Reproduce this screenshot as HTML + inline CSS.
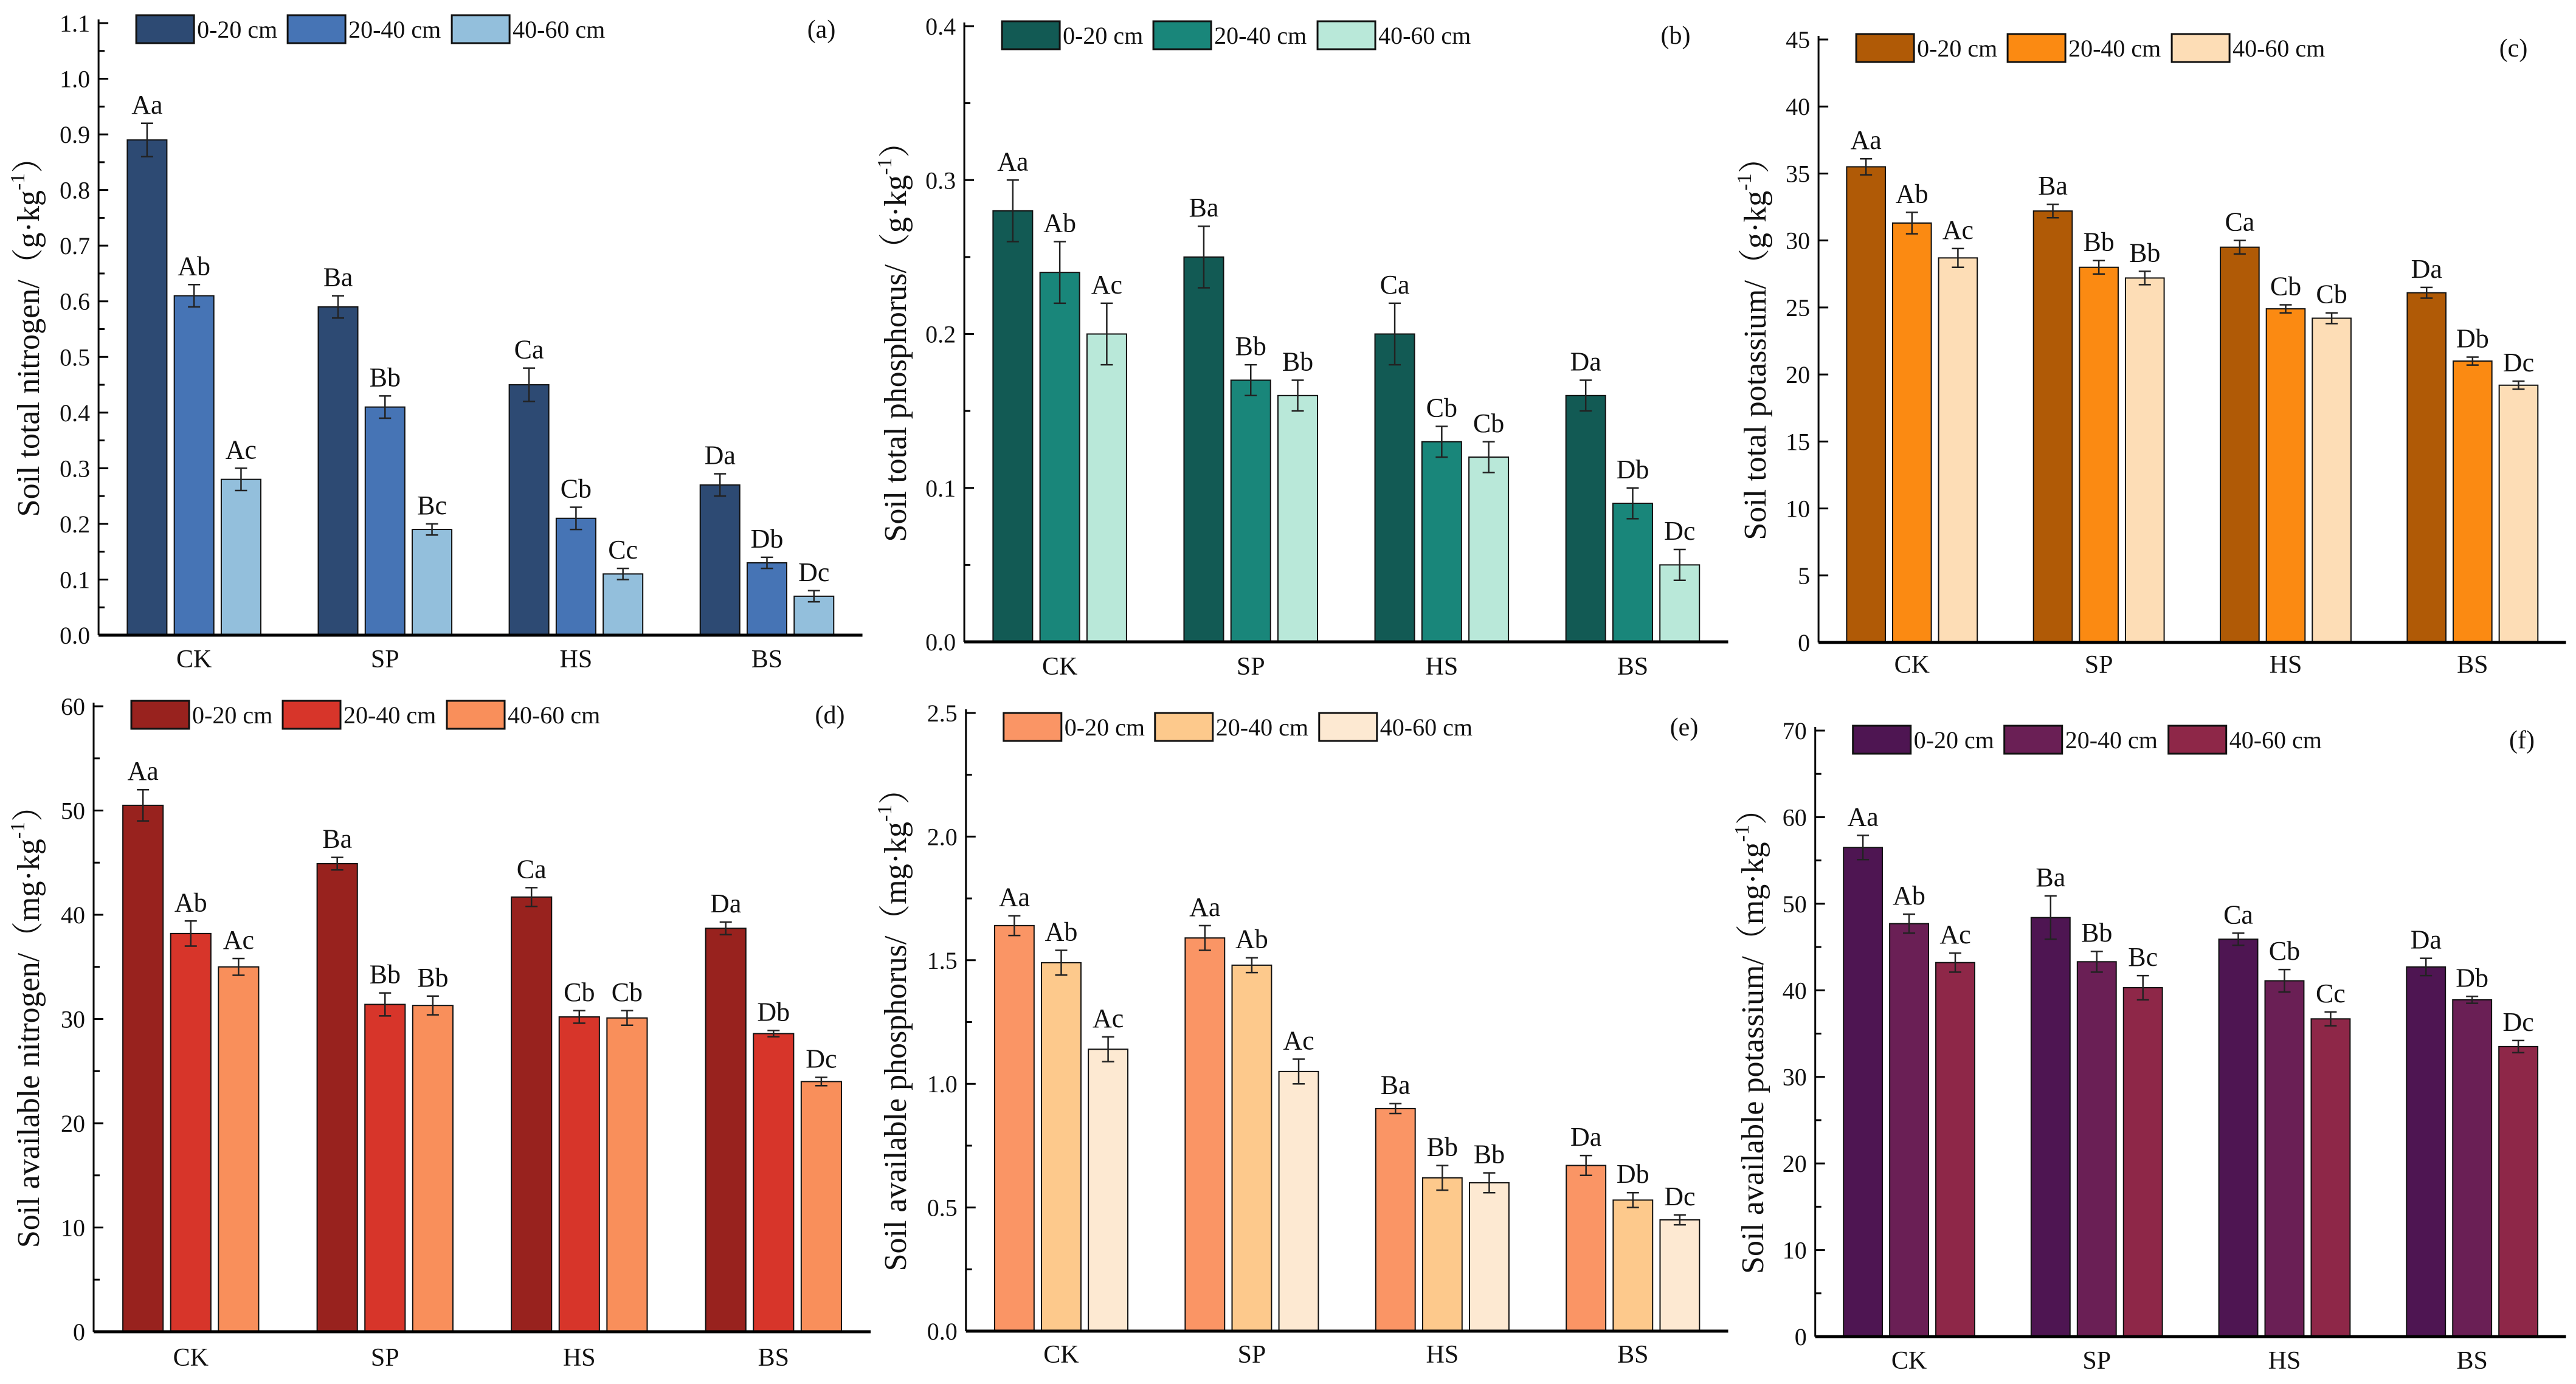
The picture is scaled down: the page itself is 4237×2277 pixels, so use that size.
<!DOCTYPE html>
<html><head><meta charset="utf-8"><style>
html,body{margin:0;padding:0;background:#fff;}
svg{display:block;font-family:"Liberation Serif","Noto Serif CJK SC",serif;}
</style></head><body>
<svg id="fig" width="4237" height="2277" viewBox="0 0 4237 2277" xmlns="http://www.w3.org/2000/svg"></svg>
<script>
const categories = ["CK","SP","HS","BS"];
const legendLabels = ["0-20 cm","20-40 cm","40-60 cm"];

const aVals = [[0.89,0.59,0.45,0.27],[0.61,0.41,0.21,0.13],[0.28,0.19,0.11,0.07]];
const aErr = [[0.03,0.02,0.03,0.02],[0.02,0.02,0.02,0.01],[0.02,0.01,0.01,0.01]];
const aSig = [["Aa","Ba","Ca","Da"],["Ab","Bb","Cb","Db"],["Ac","Bc","Cc","Dc"]];
const aTicks = ["0.0","0.1","0.2","0.3","0.4","0.5","0.6","0.7","0.8","0.9","1.0","1.1"];

const bVals = [[0.28,0.25,0.20,0.16],[0.24,0.17,0.13,0.09],[0.20,0.16,0.12,0.05]];
const bErr = [[0.02,0.02,0.02,0.01],[0.02,0.01,0.01,0.01],[0.02,0.01,0.01,0.01]];
const bSig = [["Aa","Ba","Ca","Da"],["Ab","Bb","Cb","Db"],["Ac","Bb","Cb","Dc"]];
const bTicks = ["0.0","0.1","0.2","0.3","0.4"];

const cVals = [[35.5,32.2,29.5,26.1],[31.3,28.0,24.9,21.0],[28.7,27.2,24.2,19.2]];
const cErr = [[0.6,0.5,0.5,0.4],[0.8,0.5,0.3,0.3],[0.7,0.5,0.4,0.3]];
const cSig = [["Aa","Ba","Ca","Da"],["Ab","Bb","Cb","Db"],["Ac","Bb","Cb","Dc"]];
const cTicks = ["0","5","10","15","20","25","30","35","40","45"];

const dVals = [[50.5,44.9,41.7,38.7],[38.2,31.4,30.2,28.6],[35.0,31.3,30.1,24.0]];
const dErr = [[1.5,0.6,0.9,0.6],[1.2,1.1,0.6,0.3],[0.8,0.9,0.7,0.4]];
const dSig = [["Aa","Ba","Ca","Da"],["Ab","Bb","Cb","Db"],["Ac","Bb","Cb","Dc"]];
const dTicks = ["0","10","20","30","40","50","60"];

const eVals = [[1.64,1.59,0.90,0.67],[1.49,1.48,0.62,0.53],[1.14,1.05,0.60,0.45]];
const eErr = [[0.04,0.05,0.02,0.04],[0.05,0.03,0.05,0.03],[0.05,0.05,0.04,0.02]];
const eSig = [["Aa","Aa","Ba","Da"],["Ab","Ab","Bb","Db"],["Ac","Ac","Bb","Dc"]];
const eTicks = ["0.0","0.5","1.0","1.5","2.0","2.5"];

const fVals = [[56.5,48.4,45.9,42.7],[47.7,43.3,41.1,38.9],[43.2,40.3,36.7,33.5]];
const fErr = [[1.4,2.5,0.7,1.0],[1.1,1.2,1.3,0.4],[1.1,1.4,0.8,0.7]];
const fSig = [["Aa","Ba","Ca","Da"],["Ab","Bb","Cb","Db"],["Ac","Bc","Cc","Dc"]];
const fTicks = ["0","10","20","30","40","50","60","70"];

const S = 2.702;
const NS = "http://www.w3.org/2000/svg";
const svg = document.getElementById("fig");
function mk(tag, attrs, parent){
  const e = document.createElementNS(NS, tag);
  for (const k in attrs) e.setAttribute(k, attrs[k]);
  (parent||svg).appendChild(e);
  return e;
}

const panels = [
 {id:"a", vals:aVals, err:aErr, sig:aSig, ticks:aTicks, max:1.1, minor:2, ax:60, end:525, top:38, bot:1045, legY:48, labX:1351, catY:1098, titX:52,
  colors:["#2d4a73","#4674b5","#93bfdc"], title:"Soil total nitrogen/（g·kg", unit:"）"},
 {id:"b", vals:bVals, err:bErr, sig:bSig, ticks:bTicks, max:0.4, minor:2, ax:587, end:1052, top:43, bot:1056, legY:58, labX:2756, catY:1110, titX:1478,
  colors:["#125a54","#19867a","#b9e8d9"], title:"Soil total phosphorus/（g·kg", unit:"）"},
 {id:"c", vals:cVals, err:cErr, sig:cSig, ticks:cTicks, max:45, minor:1, ax:1107, end:1562, top:65, bot:1057, legY:79, labX:4134, catY:1107, titX:2892,
  colors:["#b05a06","#fb8a12","#fdddb6"], title:"Soil total potassium/（g·kg", unit:"）"},
 {id:"d", vals:dVals, err:dErr, sig:dSig, ticks:dTicks, max:60, minor:2, ax:57, end:530, top:1162, bot:2191, legY:1176, labX:1365, catY:2247, titX:52,
  colors:["#98221e","#d7352a","#f98f5b"], title:"Soil available nitrogen/（mg·kg", unit:"）"},
 {id:"e", vals:eVals, err:eErr, sig:eSig, ticks:eTicks, max:2.5, minor:2, ax:588, end:1052, top:1173, bot:2190, legY:1196, labX:2770, catY:2242, titX:1478,
  colors:["#fa9565","#fdc98c","#fde9d2"], title:"Soil available phosphorus/（mg·kg", unit:"）"},
 {id:"f", vals:fVals, err:fErr, sig:fSig, ticks:fTicks, max:70, minor:2, ax:1105, end:1562, top:1202, bot:2199, legY:1217, labX:4148, catY:2252, titX:2888,
  colors:["#4e1552","#6a1f55","#8e2748"], title:"Soil available potassium/（mg·kg", unit:"）"}
];

panels.forEach(p => {
  const g = mk("g", {});
  
  
  const X0 = p.ax * S, X1 = p.end * S;
  const yS = v => p.bot - (v / p.max) * (p.bot - p.top);
  const L = X1 - X0, G = L / 4, bw = G * 0.207, step = G * 0.246;
  p.vals.forEach((series, s) => {
    series.forEach((v, i) => {
      const cx = X0 + (i + 0.5) * G + (s - 1) * step;
      const y = yS(v);
      const r = mk("rect", {x:cx-bw/2, y:y, width:bw, height:p.bot-y, fill:p.colors[s], stroke:"#111", "stroke-width":2}, g);
      
      
      const e = p.err[s][i], yt = yS(v+e), yb = yS(v-e);
      mk("path", {d:`M${cx},${yt}V${yb}M${cx-10},${yt}H${cx+10}M${cx-10},${yb}H${cx+10}`, stroke:"#222", "stroke-width":2.5, fill:"none"}, g);
      const t = mk("text", {x:cx, y:yt-16, "text-anchor":"middle", "font-size":44, fill:"#111"}, g);
      t.textContent = p.sig[s][i];
      
      
    });
  });
  mk("line", {x1:X0, y1:p.top-6, x2:X0, y2:p.bot, stroke:"#000", "stroke-width":3}, g);
  const xa = mk("line", {x1:X0, y1:p.bot, x2:X1, y2:p.bot, stroke:"#000", "stroke-width":5}, g);
  
  
  const n = p.ticks.length - 1;
  p.ticks.forEach((lab, k) => {
    const y = p.bot - k * (p.bot - p.top) / n;
    mk("line", {x1:X0, y1:y, x2:X0+16, y2:y, stroke:"#000", "stroke-width":3}, g);
    if (p.minor === 2 && k < n) {
      const ym = y - (p.bot - p.top) / n / 2;
      mk("line", {x1:X0, y1:ym, x2:X0+10, y2:ym, stroke:"#000", "stroke-width":3}, g);
    }
    const t = mk("text", {x:X0-14, y:y+14, "text-anchor":"end", "font-size":40, fill:"#111"}, g);
    t.textContent = lab;
    
    
  });
  categories.forEach((c, i) => {
    const t = mk("text", {x:X0+(i+0.5)*G, y:p.catY, "text-anchor":"middle", "font-size":42, fill:"#111"}, g);
    t.textContent = c;
    
    
  });
  const cy = (p.top + p.bot) / 2;
  const tt = mk("text", {x:p.titX, y:cy, "text-anchor":"middle", "font-size":52, fill:"#111", transform:`rotate(-90 ${p.titX} ${cy})`, "dominant-baseline":"middle"}, g);
  
  
  const t1 = mk("tspan", {}, tt); t1.textContent = p.title;
  const t2 = mk("tspan", {dy:-20, "font-size":34}, tt); t2.textContent = "-1";
  const t3 = mk("tspan", {dy:20}, tt); t3.textContent = p.unit;
  const offs = [62, 311, 581];
  legendLabels.forEach((lab, s) => {
    const lx = X0 + offs[s];
    const r = mk("rect", {x:lx, y:p.legY-23, width:95, height:46, fill:p.colors[s], stroke:"#111", "stroke-width":3}, g);
    
    
    const t = mk("text", {x:lx+100, y:p.legY+14, "font-size":40, fill:"#111"}, g);
    t.textContent = lab;
    
    
  });
  const pl = mk("text", {x:p.labX, y:p.legY+14, "text-anchor":"middle", "font-size":42, fill:"#111"}, g);
  pl.textContent = "(" + p.id + ")";
  
  
});
</script>
</body></html>
